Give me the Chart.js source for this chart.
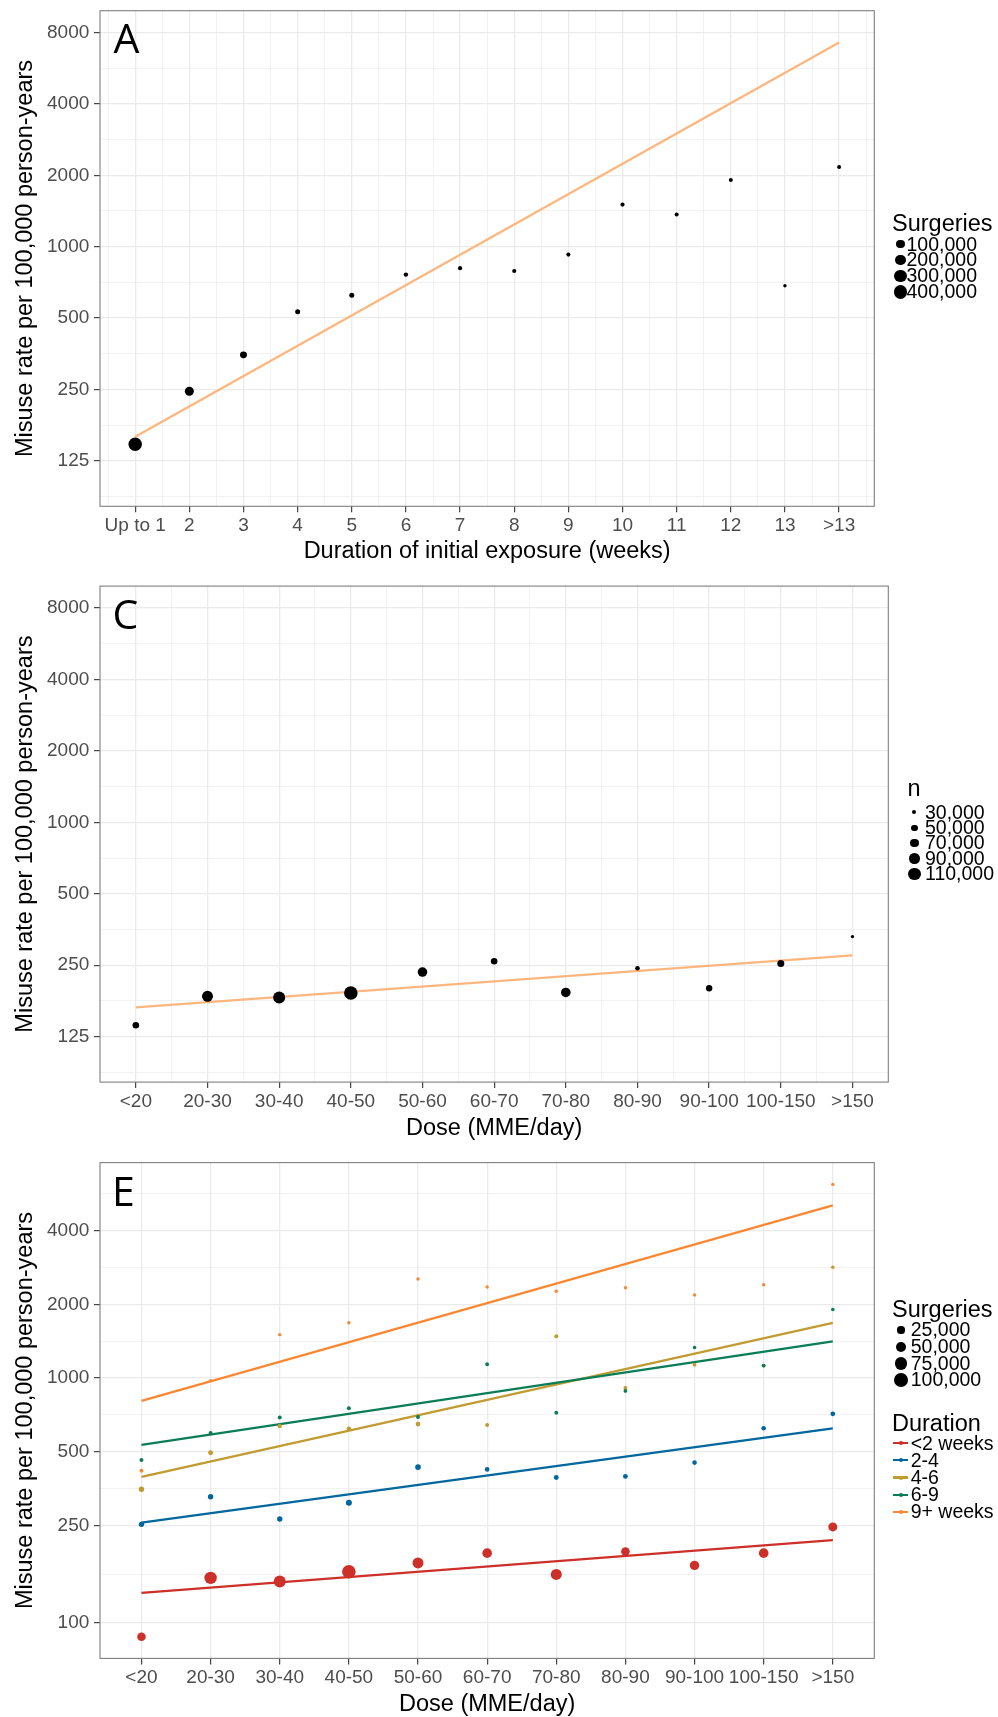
<!DOCTYPE html>
<html>
<head>
<meta charset="utf-8">
<title>Misuse rate per 100,000 person-years</title>
<script src="https://cdn.jsdelivr.net/npm/chart.js@4.4.1/dist/chart.umd.min.js"></script>
<style>
  html, body { margin:0; padding:0; background:#ffffff; }
  body { position:relative; width:998px; height:1717px; overflow:hidden; font-family:"Liberation Sans", Arial, Helvetica, sans-serif; }
  canvas { position:absolute; left:0; }
  .lbl { position:absolute; white-space:nowrap; color:#000; }
  .dot { position:absolute; border-radius:50%; }
  .keyline { position:absolute; }
</style>
</head>
<body>
<canvas id="chartA" width="998" height="570" style="top:0px"></canvas>
<canvas id="chartC" width="998" height="580" style="top:570px"></canvas>
<canvas id="chartE" width="998" height="570" style="top:1150px"></canvas>
<script>
// ---------------- DATA ----------------
// Panel A: duration of initial exposure
const weekLabels = ['Up to 1','2','3','4','5','6','7','8','9','10','11','12','13','>13'];
const weekRates = [147, 246, 350, 532, 624, 763, 812, 790, 926, 1505, 1366, 1912, 685, 2166];
const weekSurgeries = [384000, 127000, 58000, 19600, 19600, 13700, 12400, 12000, 12000, 12000, 11500, 11500, 10000, 11300];
const weekFit = [158, 7262];            // fitted line at first and last category
const weekSizeBreaks = [100000, 200000, 300000, 400000];

// Panel C: dose
const doseLabels = ['<20','20-30','30-40','40-50','50-60','60-70','70-80','80-90','90-100','100-150','>150'];
const doseRates = [139.6, 185, 183, 191, 234, 260, 192, 243, 200, 254, 330];
const doseN = [54000, 95000, 104000, 119000, 82000, 54000, 82000, 35500, 52000, 58000, 24000];
const doseFit = [166, 275];
const doseSizeBreaks = [30000, 50000, 70000, 90000, 110000];

// Panel E: dose by duration
const durationNames = ['<2 weeks', '2-4', '4-6', '6-9', '9+ weeks'];
const rateLt2   = [88, 153, 148, 162, 176, 193, 158, 196, 172, 193, 247];
const rate2to4  = [253, 328, 266, 310, 433, 424, 393, 397, 452, 624, 715];
const rate4to6  = [352, 496, 637, 621, 649, 644, 1483, 911, 1134, 1125, 2835];
const rate6to9  = [463, 597, 691, 754, 694, 1139, 722, 886, 1332, 1125, 1906];
const rate9plus = [419, 976, 1504, 1681, 2537, 2353, 2262, 2338, 2183, 2405, 6170];
const surgLt2   = [36200, 75300, 70500, 90500, 59200, 45100, 59200, 36200, 43200, 45100, 39600];
const surg2to4  = [14300, 14300, 14300, 17600, 15300, 10400, 11300, 11300, 10400, 10400, 11300];
const surg4to6  = [14300, 12200, 9500, 10400, 11300, 7800, 7800, 7800, 7100, 7100, 6300];
const surg6to9  = [7800, 7800, 7800, 7800, 7800, 7100, 7100, 7100, 6300, 7100, 6300];
const surg9plus = [7800, 5700, 5700, 5700, 5700, 5700, 5700, 5700, 5700, 5700, 5700];
const fitLt2   = [133, 218];
const fit2to4  = [257, 624];
const fit4to6  = [395, 1681];
const fit6to9  = [534, 1411];
const fit9plus = [807, 5065];
const surgSizeBreaks = [25000, 50000, 75000, 100000];

// Tick values
const yMajorAC = [125, 250, 500, 1000, 2000, 4000, 8000];
const yMinorAC = [88.39, 176.78, 353.55, 707.11, 1414.21, 2828.43, 5656.85];
const yMajorE  = [100, 250, 500, 1000, 2000, 4000];
const yMinorE  = [158.11, 353.55, 707.11, 1414.21, 2828.43, 5656.85];

// ---------------- STYLE ----------------
const FONT = '"Liberation Sans", Arial, Helvetica, sans-serif';
Chart.defaults.font.family = FONT;
Chart.defaults.animation = false;
const GRID = '#EBEBEB';
const FIT_COLOR = '#FDB67E';
const durColors = ['#CC3029', '#00679E', '#BF9B30', '#0B7D56', '#FB8732'];

// point-size scales (radius in px from surgery counts)
const sizeA = n => 1.7 + 5.3 * Math.sqrt(Math.max(0, n - 10000) / 420000);
const sizeC = n => 0.39 + n * 5.375e-5;
const sizeE = n => 0.0226 * Math.sqrt(n);

function isInt(v) { return Math.abs(v - Math.round(v)) < 1e-6; }
function halfSteps(lo, hi) { const a = []; for (let v = lo; v <= hi + 1e-9; v += 0.5) a.push(v); return a; }
function intSteps(lo, hi) { const a = []; for (let v = lo; v <= hi; v++) a.push(v); return a; }

const panelPlugin = {
  id: 'panelDecor',
  afterDraw(chart, args, opts) {
    const { ctx, chartArea: a } = chart;
    ctx.save();
    ctx.strokeStyle = '#7F7F7F';
    ctx.lineWidth = 1.1;
    ctx.strokeRect(a.left, a.top, a.right - a.left, a.bottom - a.top);
    if (opts && opts.letter) {
      ctx.fillStyle = '#000';
      ctx.font = '41px "Open Sans", "Noto Sans", sans-serif';
      ctx.textBaseline = 'alphabetic';
      ctx.textAlign = 'left';
      ctx.fillText(opts.letter, a.left + opts.dx, a.top + opts.dy);
    }
    ctx.restore();
  }
};

function makePanel(id, cfg) {
  const canvas = document.getElementById(id);
  const H = canvas.height;
  const yMajor = cfg.yMajor;
  const yTicks = cfg.yMajor.concat(cfg.yMinor).sort((a, b) => a - b);
  return new Chart(canvas, {
    type: 'scatter',
    data: { datasets: cfg.datasets },
    plugins: [panelPlugin],
    options: {
      responsive: false,
      animation: false,
      layout: { padding: { top: cfg.plotTop, right: 998 - cfg.plotRight, bottom: 0, left: 0 } },
      plugins: { legend: { display: false }, tooltip: { enabled: false }, panelDecor: cfg.letter },
      scales: {
        x: {
          type: 'linear', min: cfg.xMin, max: cfg.xMax, bounds: 'data',
          afterBuildTicks: s => { s.ticks = cfg.xTicks.map(v => ({ value: v })); },
          afterFit: s => { s.height = H - cfg.plotBottom; s.paddingLeft = 0; s.paddingRight = 0; },
          grid: {
            color: GRID,
            lineWidth: c => (c.tick && isInt(c.tick.value)) ? 1.3 : 0.65,
            tickColor: c => (c.tick && isInt(c.tick.value)) ? '#333333' : 'rgba(0,0,0,0)',
            tickLength: 6, tickWidth: 1.1
          },
          border: { display: false },
          ticks: {
            autoSkip: false, maxRotation: 0, minRotation: 0, padding: 2,
            color: '#4D4D4D', font: { size: 19 },
            callback: v => (isInt(v) && cfg.xLabels[Math.round(v)] !== undefined) ? cfg.xLabels[Math.round(v)] : ''
          },
          title: { display: true, text: cfg.xTitle, color: '#000', font: { size: 23.5 }, padding: { top: 0, bottom: cfg.xTitlePad } }
        },
        y: {
          type: 'logarithmic', min: cfg.yMin, max: cfg.yMax, bounds: 'data',
          afterBuildTicks: s => { s.ticks = yTicks.map(v => ({ value: v })); },
          afterFit: s => { s.width = cfg.plotLeft; s.paddingTop = 0; s.paddingBottom = 0; },
          grid: {
            color: GRID,
            lineWidth: c => (c.tick && yMajor.includes(c.tick.value)) ? 1.3 : 0.65,
            tickColor: c => (c.tick && yMajor.includes(c.tick.value)) ? '#333333' : 'rgba(0,0,0,0)',
            tickLength: 6, tickWidth: 1.1
          },
          border: { display: false },
          ticks: {
            autoSkip: false, padding: 4.7, color: '#4D4D4D', font: { size: 19 },
            callback: v => yMajor.includes(v) ? String(v) : ''
          },
          title: { display: true, text: 'Misuse rate per 100,000 person-years', color: '#000', font: { size: 23.5 }, padding: { top: 11.2, bottom: 0 } }
        }
      }
    }
  });
}

function pointSet(labels, rates, counts, sizeFn, color, order) {
  return {
    data: labels.map((_, i) => ({ x: i, y: rates[i] })),
    pointRadius: counts.map(sizeFn),
    pointHoverRadius: counts.map(sizeFn),
    pointBackgroundColor: color,
    pointBorderWidth: 0,
    showLine: false,
    order: order
  };
}
function fitSet(labels, fit, color, order) {
  return {
    data: [{ x: 0, y: fit[0] }, { x: labels.length - 1, y: fit[1] }],
    showLine: true, borderColor: color, borderWidth: 2.3,
    pointRadius: 0, pointHoverRadius: 0, fill: false, order: order
  };
}

// ---- Panel A ----
makePanel('chartA', {
  plotTop: 10.7, plotBottom: 506.3, plotLeft: 100, plotRight: 874.3,
  xMin: -0.65, xMax: 13.65, xTicks: halfSteps(-0.5, 13.5), xLabels: weekLabels,
  xTitle: 'Duration of initial exposure (weeks)', xTitlePad: 4.4,
  yMin: 80.5, yMax: 9880, yMajor: yMajorAC, yMinor: yMinorAC,
  letter: { letter: 'A', dx: 13.5, dy: 42.2 },
  datasets: [
    pointSet(weekLabels, weekRates, weekSurgeries, sizeA, '#000000', 0),
    fitSet(weekLabels, weekFit, FIT_COLOR, 1)
  ]
});

// ---- Panel C ----
makePanel('chartC', {
  plotTop: 16.1, plotBottom: 512.1, plotLeft: 100, plotRight: 888.3,
  xMin: -0.5, xMax: 10.5, xTicks: halfSteps(0, 10), xLabels: doseLabels,
  xTitle: 'Dose (MME/day)', xTitlePad: 7.2,
  yMin: 80.5, yMax: 9880, yMajor: yMajorAC, yMinor: yMinorAC,
  letter: { letter: 'C', dx: 12.5, dy: 43 },
  datasets: [
    pointSet(doseLabels, doseRates, doseN, sizeC, '#000000', 0),
    fitSet(doseLabels, doseFit, FIT_COLOR, 1)
  ]
});

// ---- Panel E ----
const eRates = [rateLt2, rate2to4, rate4to6, rate6to9, rate9plus];
const eSurg = [surgLt2, surg2to4, surg4to6, surg6to9, surg9plus];
const eFits = [fitLt2, fit2to4, fit4to6, fit6to9, fit9plus];
const eSets = [];
eRates.forEach((r, g) => eSets.push(pointSet(doseLabels, r, eSurg[g], sizeE, durColors[g], 14 - g)));
eFits.forEach((f, g) => eSets.push(fitSet(doseLabels, f, durColors[g], 24 - g)));
makePanel('chartE', {
  plotTop: 12.6, plotBottom: 508.4, plotLeft: 100, plotRight: 874.3,
  xMin: -0.6, xMax: 10.6, xTicks: intSteps(0, 10), xLabels: doseLabels,
  xTitle: 'Dose (MME/day)', xTitlePad: 1.1,
  yMin: 71.8, yMax: 7573, yMajor: yMajorE, yMinor: yMinorE,
  letter: { letter: 'E', dx: 12, dy: 43.4 },
  datasets: eSets
});

// ---------------- LEGENDS (HTML text) ----------------
function addLabel(text, left, cy, size) {
  const d = document.createElement('div');
  d.className = 'lbl';
  d.textContent = text;
  const lh = size * 1.2;
  d.style.left = left + 'px';
  d.style.top = (cy - lh / 2) + 'px';
  d.style.fontSize = size + 'px';
  d.style.lineHeight = lh + 'px';
  document.body.appendChild(d);
}
function addDot(cx, cy, r, color) {
  const d = document.createElement('div');
  d.className = 'dot';
  d.style.left = (cx - r) + 'px';
  d.style.top = (cy - r) + 'px';
  d.style.width = (2 * r) + 'px';
  d.style.height = (2 * r) + 'px';
  d.style.background = color;
  document.body.appendChild(d);
}
function addKeyLine(x1, x2, cy, color) {
  const d = document.createElement('div');
  d.className = 'keyline';
  d.style.left = x1 + 'px';
  d.style.top = (cy - 1.1) + 'px';
  d.style.width = (x2 - x1) + 'px';
  d.style.height = '2.2px';
  d.style.background = color;
  document.body.appendChild(d);
}
function sizeLegend(title, breaks, sizeFn, s) {
  addLabel(title, s.titleLeft, s.titleCy, 23.5);
  breaks.forEach((b, i) => {
    const cy = s.rowCy + i * s.rowStep;
    addDot(s.keyCx, cy, sizeFn(b), '#000');
    addLabel(b.toLocaleString('en-US'), s.labelLeft, cy, 19.5);
  });
}

sizeLegend('Surgeries', weekSizeBreaks, sizeA, { titleLeft: 892, titleCy: 223.4, rowCy: 244.3, rowStep: 15.8, keyCx: 900.5, labelLeft: 906.5 });
sizeLegend('n', doseSizeBreaks, sizeC, { titleLeft: 907.5, titleCy: 787.8, rowCy: 812.3, rowStep: 15.4, keyCx: 914.5, labelLeft: 925 });
sizeLegend('Surgeries', surgSizeBreaks, sizeE, { titleLeft: 892, titleCy: 1308.9, rowCy: 1330, rowStep: 16.67, keyCx: 901, labelLeft: 910.7 });

addLabel('Duration', 892, 1423.1, 23.5);
durationNames.forEach((name, g) => {
  const cy = 1443.3 + g * 17.1;
  addKeyLine(893.3, 908.3, cy, durColors[g]);
  addDot(900.8, cy, 2, durColors[g]);
  addLabel(name, 910.7, cy, 19.5);
});
</script>
</body>
</html>
